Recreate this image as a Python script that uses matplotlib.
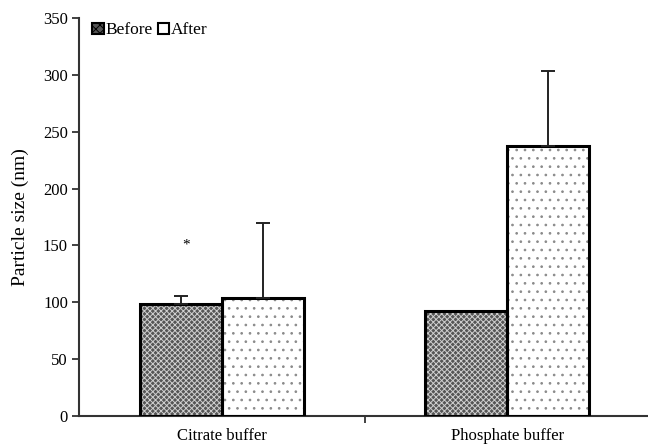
import matplotlib
matplotlib.use("Agg")
import matplotlib.pyplot as plt
from matplotlib.patches import Patch
import numpy as np

categories = ["Citrate buffer", "Phosphate buffer"]
before = [98.5, 92.0]
after = [104.0, 237.0]
before_err = [7.0, 0.0]
after_err = [66.0, 66.0]
series_names = ["Before", "After"]
y_ticks = [0, 50, 100, 150, 200, 250, 300, 350]
star_value = 150

plt.rcParams['font.family'] = ['Liberation Serif', 'DejaVu Serif']
plt.rcParams['hatch.linewidth'] = 0.7

fig = plt.figure(figsize=(6.48, 4.45), dpi=100)
ax = fig.add_axes([79 / 648, 1 - 416 / 445, 571 / 648, (416 - 18) / 445])

x = np.arange(len(categories))
w = 0.288

# Before: dark fill with fine light cross pattern
ax.bar(x - w / 2, before, w, color='#555555', hatch='xxxxxx', edgecolor='#cfcfcf', linewidth=0, zorder=2)
ax.bar(x - w / 2, before, w, fill=False, edgecolor='black', linewidth=2.2, zorder=3)
# After: white fill with sparse grey dots
ax.bar(x + w / 2, after, w, color='white', hatch='..', edgecolor='#8a8a8a', linewidth=0, zorder=2)
ax.bar(x + w / 2, after, w, fill=False, edgecolor='black', linewidth=2.2, zorder=3)

# upward-only error bars
for xi, v, e in zip(x - w / 2, before, before_err):
    if e > 0:
        ax.errorbar(xi, v, yerr=[[0], [e]], fmt='none', ecolor='#222222', elinewidth=1.4, capsize=5, capthick=1.4, zorder=4)
for xi, v, e in zip(x + w / 2, after, after_err):
    if e > 0:
        ax.errorbar(xi, v, yerr=[[0], [e]], fmt='none', ecolor='#222222', elinewidth=1.4, capsize=5, capthick=1.4, zorder=4)

ax.text(x[0] - w / 2 + 0.02, star_value, '*', ha='center', va='center', fontsize=11)

ax.set_xlim(-0.5, 1.5)
ax.set_ylim(0, 350)
ax.set_yticks(y_ticks)
ax.set_yticklabels([str(t) for t in y_ticks], fontsize=12)
ax.set_xticks([0.5, 1.5])
ax.set_xticklabels([])
for xi, lab in zip(x, categories):
    ax.text(xi, -10.5, lab, ha='center', va='top', fontsize=12)
ax.tick_params(axis='both', direction='out', length=5, width=1.3, color='#333333', pad=3)
ax.spines['top'].set_visible(False)
ax.spines['right'].set_visible(False)
for s in ('left', 'bottom'):
    ax.spines[s].set_linewidth(1.5)
    ax.spines[s].set_color('#333333')
ax.set_ylabel('Particle size (nm)', fontsize=14, labelpad=10)

handles = [
    Patch(facecolor='#555555', hatch='xxxx', edgecolor='black', linewidth=1.5),
    Patch(facecolor='white', edgecolor='black', linewidth=1.5),
]
ax.legend(handles, series_names, loc='upper left', bbox_to_anchor=(0.005, 1.015), ncol=2,
          frameon=False, fontsize=12.5, handlelength=0.65, handleheight=0.65,
          handletextpad=0.1, columnspacing=0.3, borderaxespad=0.2)

fig.savefig('out.png', dpi=100)
